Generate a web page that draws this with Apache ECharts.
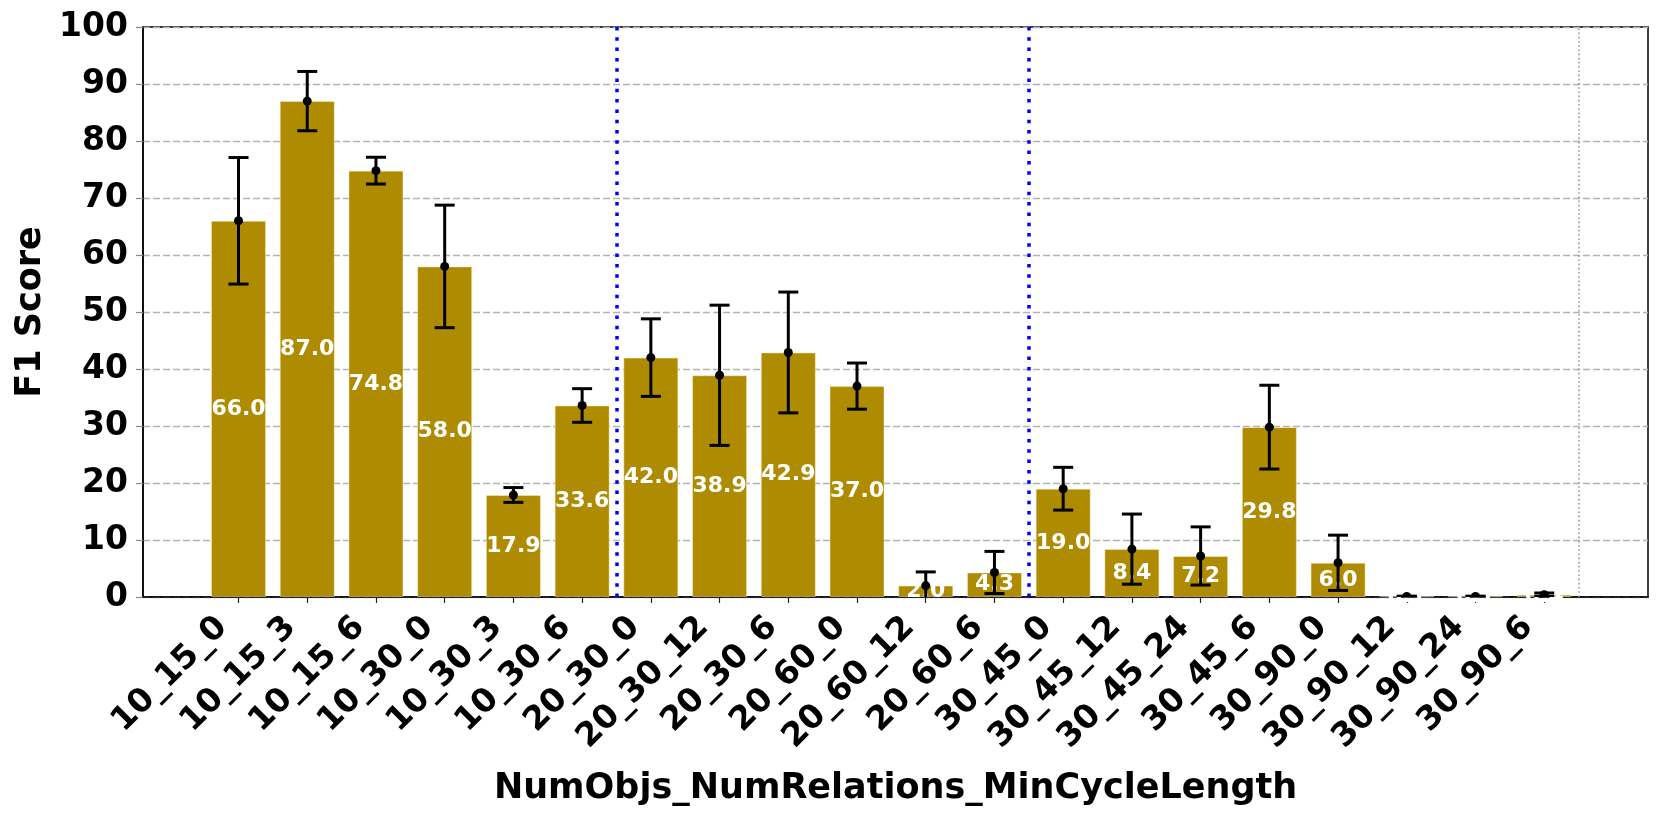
<!DOCTYPE html>
<html><head><meta charset="utf-8">
<script src="https://cdn.jsdelivr.net/npm/echarts@6/dist/echarts.min.js"></script>
<style>html,body{margin:0;padding:0;background:#fff}#c{width:1662px;height:820px}</style>
</head><body><div id="c"></div>
<script>
const categories = ['10_15_0','10_15_3','10_15_6','10_30_0','10_30_3','10_30_6','20_30_0','20_30_12','20_30_6','20_60_0','20_60_12','20_60_6','30_45_0','30_45_12','30_45_24','30_45_6','30_90_0','30_90_12','30_90_24','30_90_6'];
const f1Scores = [66.0,87.0,74.8,58.0,17.9,33.6,42.0,38.9,42.9,37.0,2.0,4.3,19.0,8.4,7.2,29.8,6.0,0.1,0.1,0.4];
const f1Errors = [11.1,5.2,2.35,10.75,1.3,2.95,6.8,12.3,10.6,4.05,2.4,3.7,3.75,6.15,5.1,7.35,4.85,0.05,0.05,0.3];
const groupSeparators = [5.5, 11.5];
const endMarker = 19.5;
const yTickValues = [0,10,20,30,40,50,60,70,80,90,100];

const FONT = 'DejaVu Sans';
const positions = categories.map((_, i) => i);
const barData = f1Scores.map((v, i) => [i, v]);
const errData = f1Scores.map((v, i) => [i, v, f1Errors[i]]);

const chart = echarts.init(document.getElementById('c'), null, {renderer: 'canvas'});
chart.setOption({
  animation: false,
  backgroundColor: '#fff',
  grid: {left: 143, right: 14, top: 27, bottom: 223, show: true, borderColor: '#000', borderWidth: 1.5, backgroundColor: 'transparent', containLabel: false},
  xAxis: {
    type: 'value', min: -1.39, max: 20.51,
    name: 'NumObjs_NumRelations_MinCycleLength', nameLocation: 'middle', nameGap: 174,
    nameTextStyle: {fontFamily: FONT, fontWeight: 'bold', fontSize: 35, color: '#000'},
    axisLine: {show: true, onZero: false, lineStyle: {color: '#000', width: 1.5}},
    axisTick: {show: true, length: 6, customValues: positions, lineStyle: {color: '#222', width: 1.2}},
    axisLabel: {show: true, customValues: positions, rotate: 45, margin: 9,
      fontFamily: FONT, fontWeight: 'bold', fontSize: 33, color: '#000',
      formatter: v => categories[Math.round(v)] + '\u00a0\u00a0'},
    splitLine: {show: false}
  },
  yAxis: {
    type: 'value', min: 0, max: 100, interval: 10,
    name: 'F1 Score', nameLocation: 'middle', nameGap: 91,
    nameTextStyle: {fontFamily: FONT, fontWeight: 'bold', fontSize: 35, color: '#000'},
    axisLine: {show: true, onZero: false, lineStyle: {color: '#000', width: 1.5}},
    axisTick: {show: true, length: 7, lineStyle: {color: '#888', width: 1.2}},
    axisLabel: {margin: 15, fontFamily: FONT, fontWeight: 'bold', fontSize: 33, color: '#000',
      customValues: yTickValues},
    splitLine: {show: true, lineStyle: {color: '#b3b3b3', type: [7, 3], width: 1.3}}
  },
  series: [
    {
      type: 'bar', data: barData, barWidth: 55, z: 2,
      itemStyle: {color: '#ae8b00', borderColor: 'rgba(255,240,200,0.45)', borderWidth: 1},
      label: {show: true, position: 'inside', color: '#fff', fontFamily: FONT, fontWeight: 'bold', fontSize: 22,
        formatter: p => p.value[1].toFixed(1)},
      markLine: {
        silent: true, symbol: 'none', animation: false, label: {show: false},
        data: [
          ...groupSeparators.map(x => ({xAxis: x, lineStyle: {color: '#0000ff', width: 3.5, type: [3.5, 6.8]}})),
          {xAxis: endMarker, lineStyle: {color: '#999', width: 1.6, type: [1.6, 2.6]}}
        ]
      }
    },
    {
      type: 'custom', data: errData, z: 10, clip: true,
      renderItem: (params, api) => {
        const x = api.value(0), m = api.value(1), e = api.value(2);
        const top = api.coord([x, m + e]);
        const bot = api.coord([x, m - e]);
        const mid = api.coord([x, m]);
        const hw = 10;
        const st = {stroke: '#000', lineWidth: 3};
        return {type: 'group', children: [
          {type: 'line', shape: {x1: mid[0], y1: top[1], x2: mid[0], y2: bot[1]}, style: st},
          {type: 'line', shape: {x1: mid[0]-hw, y1: top[1], x2: mid[0]+hw, y2: top[1]}, style: st},
          {type: 'line', shape: {x1: mid[0]-hw, y1: bot[1], x2: mid[0]+hw, y2: bot[1]}, style: st},
          {type: 'circle', shape: {cx: mid[0], cy: mid[1], r: 4.5}, style: {fill: '#000'}}
        ]};
      }
    }
  ]
});
</script></body></html>
